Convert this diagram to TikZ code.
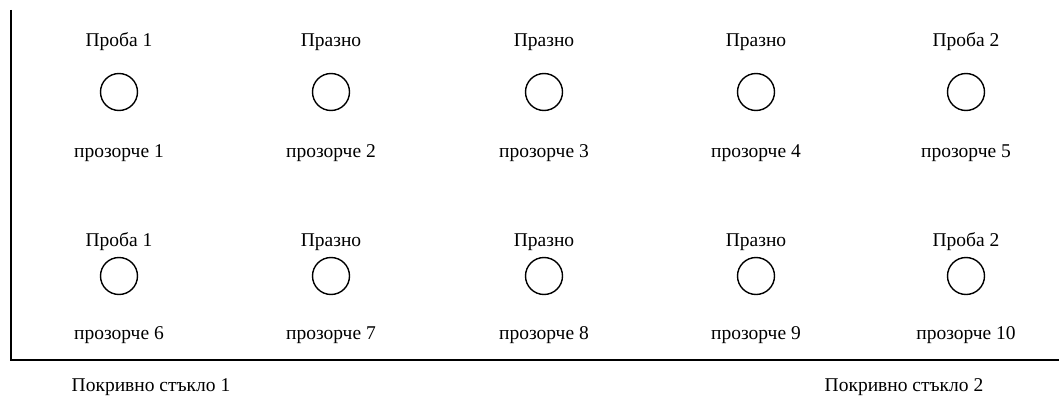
\documentclass[tikz,border=0pt]{standalone}
\usepackage{fontspec}
\setmainfont{Liberation Serif}
\begin{document}
\begin{tikzpicture}[x=1pt,y=-1pt,
  win/.style={circle,draw,line width=1.4pt,minimum size=37pt,inner sep=0pt},
  lbl/.style={font=\fontsize{19.5}{22}\selectfont,inner sep=0pt,anchor=center}]
\useasboundingbox (0,0) rectangle (1059,401);
\coordinate (tl) at (11,10);
\coordinate (bl) at (11,360);
\coordinate (br) at (1059,360);
\draw[line width=1.7pt] (tl) -- (bl) -- (br);
\foreach \x/\i/\t [count=\k] in {119/1/Проба 1,331/2/Празно,544/3/Празно,756/4/Празно,966/5/Проба 2}{
  \node[lbl] (ta\k) at (\x,42) {\t};
  \node[win] (ca\k) at (\x,92) {};
  \node[lbl] (pa\k) at (\x,153) {прозорче \i};
}
\foreach \x/\i/\t [count=\k] in {119/6/Проба 1,331/7/Празно,544/8/Празно,756/9/Празно,966/10/Проба 2}{
  \node[lbl] (tb\k) at (\x,242) {\t};
  \node[win] (cb\k) at (\x,276) {};
  \node[lbl] (pb\k) at (\x,335) {прозорче \i};
}
\node[lbl] (g1) at (151,387) {Покривно стъкло 1};
\node[lbl] (g2) at (904,387) {Покривно стъкло 2};
\end{tikzpicture}
\end{document}
